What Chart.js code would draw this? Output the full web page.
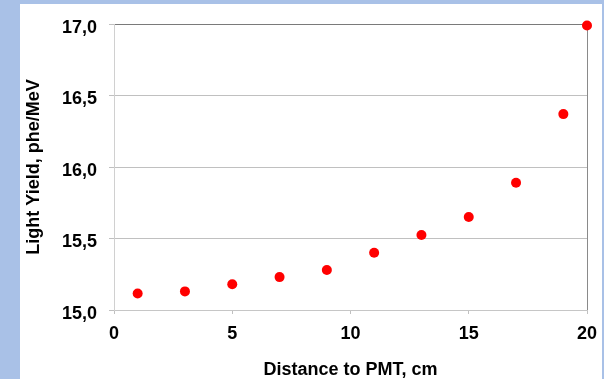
<!DOCTYPE html>
<html>
<head>
<meta charset="utf-8">
<script src="https://cdn.jsdelivr.net/npm/chart.js@4"></script>
<style>
  body { margin: 0; background: #a9c1e7; width: 604px; height: 379px; overflow: hidden; }
  #panel { position: absolute; left: 20px; top: 4px; width: 582px; height: 375px; background: #fff; }
</style>
</head>
<body>
<div id="panel"><canvas id="yieldChart" width="582" height="375"></canvas></div>
<script>
const distance = [1, 3, 5, 7, 9, 11, 13, 15, 17, 19, 20];
const lightYield = [15.115, 15.13, 15.18, 15.23, 15.28, 15.40, 15.525, 15.65, 15.89, 16.37, 16.99];
const xTicks = [0, 5, 10, 15, 20];
const yTicks = [15.0, 15.5, 16.0, 16.5, 17.0];

const points = distance.map((d, i) => ({ x: d, y: lightYield[i] }));
const tickFont = { family: 'Liberation Sans, Arial, sans-serif', size: 18, weight: 'bold' };
const titleFont = { family: 'Liberation Sans, Arial, sans-serif', size: 18, weight: 'bold', lineHeight: 1 };

new Chart(document.getElementById('yieldChart'), {
  type: 'scatter',
  data: {
    datasets: [{
      data: points,
      backgroundColor: '#ff0000',
      borderWidth: 0,
      pointRadius: 5,
      pointHoverRadius: 5,
      clip: false
    }]
  },
  options: {
    responsive: false,
    animation: false,
    layout: { padding: { top: 20, right: 15, left: 0, bottom: 0 } },
    plugins: { legend: { display: false }, tooltip: { enabled: false } },
    scales: {
      x: {
        type: 'linear',
        min: xTicks[0],
        max: xTicks[xTicks.length - 1],
        afterBuildTicks: s => { s.ticks = xTicks.map(v => ({ value: v })); },
        afterFit: s => { s.height = 69; s.paddingLeft = 0; s.paddingRight = 0; },
        border: { color: '#c6c6c6', width: 1 },
        grid: {
          color: c => (c.tick && c.tick.value === 20) ? '#8a8a8a' : 'rgba(0,0,0,0)',
          tickColor: '#c0c0c0',
          tickLength: 4,
          lineWidth: 1
        },
        ticks: { font: tickFont, color: '#000', padding: 9, maxRotation: 0 },
        title: { display: true, text: 'Distance to PMT, cm', font: titleFont, color: '#000', padding: 0 }
      },
      y: {
        type: 'linear',
        min: yTicks[0],
        max: yTicks[yTicks.length - 1],
        afterBuildTicks: s => { s.ticks = yTicks.map(v => ({ value: v })); },
        afterFit: s => { s.width = 94; s.paddingTop = 0; s.paddingBottom = 0; },
        border: { color: '#d0d0d0', width: 1 },
        grid: {
          color: c => (c.tick && c.tick.value === 17) ? '#7a7a7a' : '#c0c0c0',
          tickColor: '#c0c0c0',
          tickLength: 5,
          lineWidth: 1
        },
        ticks: {
          font: tickFont,
          color: '#000',
          padding: 12,
          labelOffset: 4,
          callback: v => v.toFixed(1).replace('.', ',')
        },
        title: { display: true, text: 'Light Yield, phe/MeV', font: titleFont, color: '#000', padding: { top: 5, bottom: 0 } }
      }
    }
  }
});
</script>
</body>
</html>
